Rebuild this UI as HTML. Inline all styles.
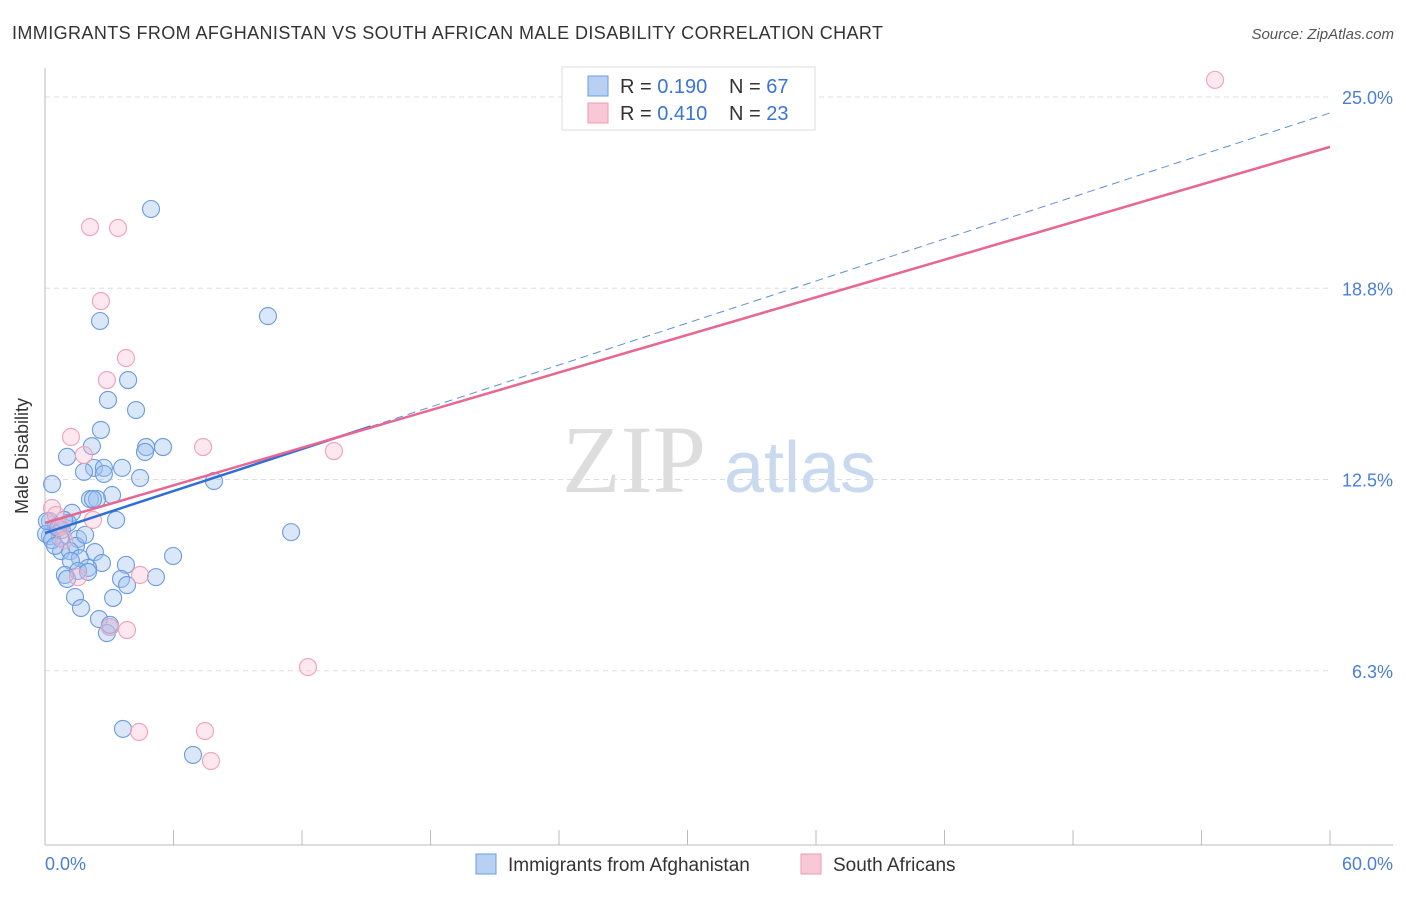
<!DOCTYPE html>
<html><head><meta charset="utf-8"><style>
body{margin:0;background:#fff;font-family:"Liberation Sans",sans-serif;}
</style></head><body>
<svg width="1406" height="892" viewBox="0 0 1406 892" xmlns="http://www.w3.org/2000/svg">
<text x="12" y="39" font-size="18" fill="#333" textLength="871">IMMIGRANTS FROM AFGHANISTAN VS SOUTH AFRICAN MALE DISABILITY CORRELATION CHART</text>
<text x="1394" y="39" font-size="15" fill="#555" font-style="italic" text-anchor="end">Source: ZipAtlas.com</text>
<g id="grid"></g>
<text x="634" y="492" font-size="96" fill="#ddd" font-family="Liberation Serif,serif" text-anchor="middle">ZIP</text>
<text x="800" y="492" font-size="72" fill="#c9d9ef" text-anchor="middle">atlas</text>
<line x1="45" y1="68" x2="45" y2="845" stroke="#bbb"/>
<line x1="45" y1="845" x2="1393" y2="845" stroke="#bbb"/>
<text x="28" y="456" font-size="18" fill="#333" text-anchor="middle" transform="rotate(-90 28 456)">Male Disability</text>
<text x="45" y="870" font-size="18" fill="#4a7fd4">0.0%</text>
<text x="1393" y="870" font-size="18" fill="#4a7fd4" text-anchor="end">60.0%</text>
<g id="pts"></g>
<g id="lines"></g>
<rect x="562" y="67" width="253" height="63" fill="#fff" stroke="#ddd"/>
<rect x="588" y="76" width="20" height="20" fill="#b8d0f3" stroke="#6a9be0"/>
<rect x="588" y="103" width="20" height="20" fill="#f9c8d6" stroke="#ee9ab5"/>
<text x="620" y="93" font-size="20" fill="#333">R = <tspan fill="#3a74d4">0.190</tspan></text>
<text x="729" y="93" font-size="20" fill="#333">N = <tspan fill="#3a74d4">67</tspan></text>
<text x="620" y="120" font-size="20" fill="#333">R = <tspan fill="#3a74d4">0.410</tspan></text>
<text x="729" y="120" font-size="20" fill="#333">N = <tspan fill="#3a74d4">23</tspan></text>
<rect x="476" y="854" width="20" height="20" fill="#b8d0f3" stroke="#6a9be0"/>
<text x="508" y="871" font-size="19" fill="#333">Immigrants from Afghanistan</text>
<rect x="801" y="854" width="20" height="20" fill="#f9c8d6" stroke="#ee9ab5"/>
<text x="833" y="871" font-size="19" fill="#333">South Africans</text>
</svg>
<script>
const yTicks=[6.25,12.5,18.75,25];
const yTickLabels=["6.3%","12.5%","18.8%","25.0%"];
const xTicks=[0,6,12,18,24,30,36,42,48,54,60];
const bluePx=[[151,209],[268,316],[100,321],[128,380],[108,400],[136,410],[101,430],[92,446],[146,447],[163,447],[145,452],[67,457],[94,468],[104,468],[122,468],[84,472],[104,474],[140,478],[214,481],[52,484],[112,495],[90,499],[97,499],[93,499],[116,520],[72,513],[68,523],[50,521],[56,527],[62,530],[291,532],[50,536],[60,538],[78,539],[76,546],[95,552],[61,551],[70,551],[173,556],[80,558],[102,563],[126,565],[71,561],[88,568],[78,571],[65,575],[67,579],[121,579],[156,577],[127,585],[75,597],[113,598],[81,608],[99,619],[110,627],[107,633],[123,729],[193,755],[46,534],[52,540],[58,528],[64,520],[85,535],[88,572],[110,625],[55,546],[47,521]];
const pinkPx=[[1215,80],[90,227],[118,228],[101,301],[126,358],[107,380],[71,437],[203,447],[334,451],[84,455],[52,508],[56,515],[93,520],[60,527],[64,540],[78,577],[140,575],[127,630],[110,627],[308,667],[139,732],[205,731],[211,761]];
const blueX=bluePx.map(p=>+((p[0]-45)/21.417).toFixed(2));
const blueY=bluePx.map(p=>+((862-p[1])/30.6).toFixed(2));
const pinkX=pinkPx.map(p=>+((p[0]-45)/21.417).toFixed(2));
const pinkY=pinkPx.map(p=>+((862-p[1])/30.6).toFixed(2));
const blueTrend=[10.75,24.48];
const pinkTrend=[11.08,23.37];
const sx=v=>45+v*21.417, sy=v=>862-v*30.6;
const NS="http://www.w3.org/2000/svg";
function mk(t,a,p){const e=document.createElementNS(NS,t);for(const k in a)e.setAttribute(k,a[k]);p.appendChild(e);return e;}
const grid=document.getElementById('grid');
yTicks.forEach((v,i)=>{
 const l=mk('line',{x1:45,x2:1330,y1:sy(v),y2:sy(v),stroke:'#ddd','stroke-dasharray':'5,4'},grid);
 
 
 const t=mk('text',{x:1393,y:sy(v)+7,'font-size':18,fill:'#4a7fd4','text-anchor':'end'},grid);
 t.textContent=yTickLabels[i];
 
 
});
xTicks.forEach(v=>{
 const l=mk('line',{x1:sx(v),x2:sx(v),y1:830,y2:845,stroke:'#bbb'},grid);
 
 
});
const pts=document.getElementById('pts');
blueX.forEach((x,i)=>{
 const c=mk('circle',{cx:sx(x),cy:sy(blueY[i]),r:8.5,fill:'rgba(160,195,240,0.4)',stroke:'#6a9be0','stroke-width':1.1},pts);
 
 
});
pinkX.forEach((x,i)=>{
 const c=mk('circle',{cx:sx(x),cy:sy(pinkY[i]),r:8.5,fill:'rgba(248,190,208,0.35)',stroke:'#f0a0b9','stroke-width':1.1},pts);
 
 
});
const lines=document.getElementById('lines');
const by=x=>blueTrend[0]+(blueTrend[1]-blueTrend[0])*x/60;
const py=x=>pinkTrend[0]+(pinkTrend[1]-pinkTrend[0])*x/60;
let l1=mk('line',{x1:sx(0),y1:sy(by(0)),x2:sx(15.2),y2:sy(by(15.2)),stroke:'#2e6fd6','stroke-width':2.5},lines);


let l2=mk('line',{x1:sx(15.2),y1:sy(by(15.2)),x2:sx(60),y2:sy(by(60)),stroke:'#5b8fdc','stroke-width':1,'stroke-dasharray':'8,5'},lines);


let l3=mk('line',{x1:sx(0),y1:sy(py(0)),x2:sx(60),y2:sy(py(60)),stroke:'#e8668f','stroke-width':2.5},lines);


</script>
</body></html>
